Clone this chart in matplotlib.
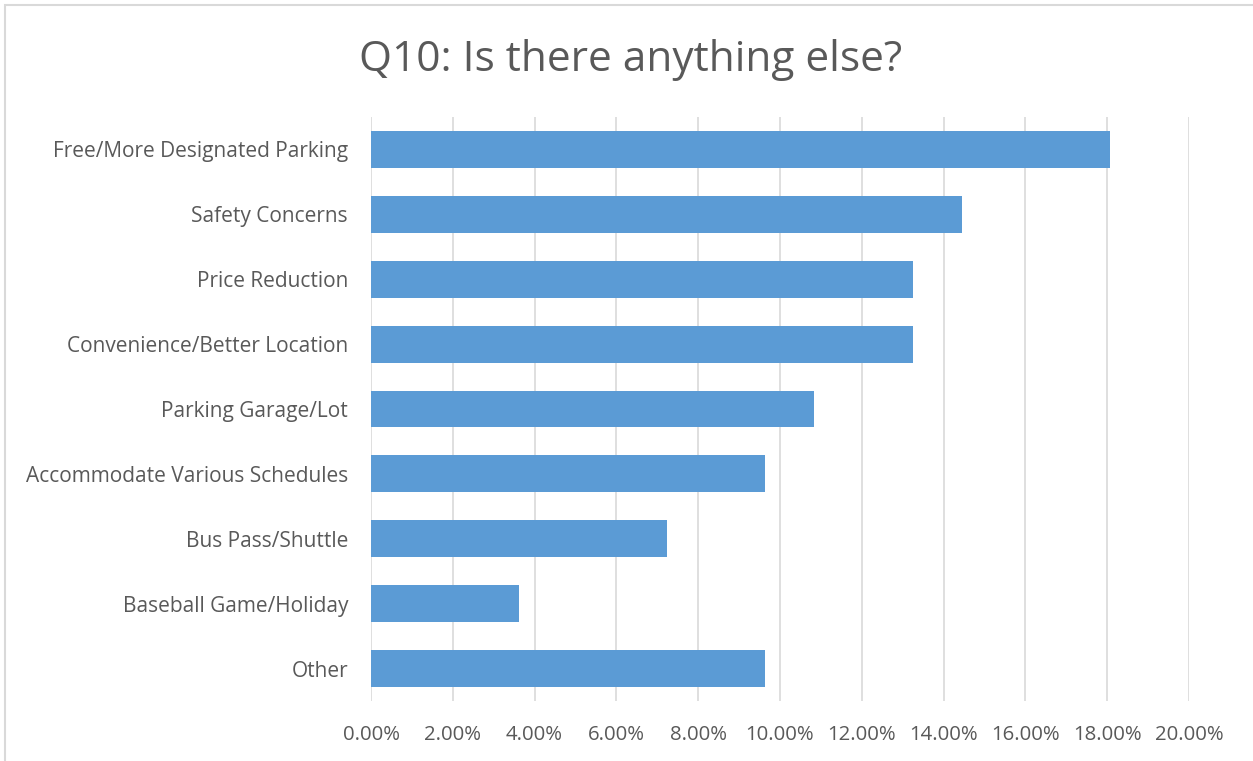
import matplotlib
matplotlib.use("Agg")
import matplotlib.pyplot as plt
from matplotlib.ticker import FuncFormatter, MultipleLocator
from matplotlib.patches import Rectangle

categories = [
    "Free/More Designated Parking",
    "Safety Concerns",
    "Price Reduction",
    "Convenience/Better Location",
    "Parking Garage/Lot",
    "Accommodate Various Schedules",
    "Bus Pass/Shuttle",
    "Baseball Game/Holiday",
    "Other",
]
values = [0.1807, 0.1446, 0.1325, 0.1325, 0.1084, 0.0964, 0.0723, 0.0361, 0.0964]
title = "Q10: Is there anything else?"

plt.rcParams['font.family'] = ['Open Sans', 'DejaVu Sans']
W, H = 1253, 761
fig = plt.figure(figsize=(W / 100, H / 100), dpi=100)
fig.patch.set_facecolor("white")

# outer chart border (partially cropped)
fig.add_artist(Rectangle((5 / W, -0.1), 1.2, 1 - 5 / H + 0.1, transform=fig.transFigure,
                         fill=False, edgecolor="#d9d9d9", linewidth=1.5))

ax = fig.add_axes([371 / W, 1 - 701 / H, (1189 - 371) / W, (701 - 117) / H])
y = list(range(len(categories)))
ax.barh(y, values, height=0.57, color="#5b9bd5", zorder=3)
ax.set_ylim(len(categories) - 0.5, -0.5)
ax.set_xlim(0, 0.20)
ax.xaxis.set_major_locator(MultipleLocator(0.02))
ax.xaxis.set_major_formatter(FuncFormatter(lambda v, p: f"{v*100:.2f}%"))
ax.set_yticks(y)
ax.set_yticklabels(categories)
ax.grid(axis="x", color="#d9d9d9", linewidth=1.2, zorder=0)
for s in ax.spines.values():
    s.set_visible(False)
ax.tick_params(axis="both", length=0, colors="#595959")
ax.tick_params(axis="x", pad=17, labelsize=14.7)
ax.tick_params(axis="y", pad=16.5, labelsize=15)
fig.text(631 / W, 1 - 60 / H, title, ha="center", va="center", fontsize=30.5, color="#595959")

fig.savefig("out.png", dpi=100)
